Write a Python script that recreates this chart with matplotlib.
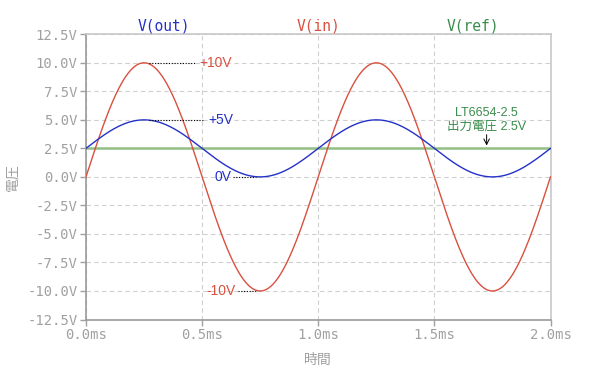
import numpy as np
import matplotlib
matplotlib.use("Agg")
import matplotlib.pyplot as plt

# waveform parameters
freq_hz = 1000.0          # 1 period per 1.0 ms
vin_amp = 10.0            # V(in): +/-10V
vout_offset = 2.5         # V(out): 0..5V
vout_amp = 2.5
vref_level = 2.5          # V(ref)
t_end_ms = 2.0

xticks = [0.0, 0.5, 1.0, 1.5, 2.0]
xtick_labels = ["0.0ms", "0.5ms", "1.0ms", "1.5ms", "2.0ms"]
yticks = [-12.5, -10.0, -7.5, -5.0, -2.5, 0.0, 2.5, 5.0, 7.5, 10.0, 12.5]
ytick_labels = ["-12.5V", "-10.0V", "-7.5V", "-5.0V", "-2.5V", "0.0V",
                "2.5V", "5.0V", "7.5V", "10.0V", "12.5V"]
trace_names = ["V(out)", "V(in)", "V(ref)"]

RED = "#d9503f"
BLUE = "#2431c8"
GREEN_LINE = "#93bf84"
GREEN_TXT = "#3a8c4c"
GRAY = "#a0a0a0"

t = np.linspace(0, t_end_ms, 801)
ph = 2 * np.pi * freq_hz * t / 1000.0
v_in = vin_amp * np.sin(ph)
v_out = vout_offset + vout_amp * np.sin(ph)
v_ref = np.full_like(t, vref_level)

mono = "DejaVu Sans Mono"
sans = ["Liberation Sans", "Noto Sans CJK JP", "DejaVu Sans"]

fig = plt.figure(figsize=(6.0, 3.81), dpi=100)
ax = fig.add_axes([0.1433, 0.1614, 0.7742, 0.7486])

ax.plot(t, v_ref, color=GREEN_LINE, lw=1.8, zorder=2)
ax.plot(t, v_in, color=RED, lw=1.0, zorder=3)
ax.plot(t, v_out, color=BLUE, lw=1.0, zorder=3)

ax.set_xlim(0, t_end_ms)
ax.set_ylim(-12.5, 12.5)
ax.set_xticks(xticks)
ax.set_xticklabels(xtick_labels, family=mono, fontsize=10, color=GRAY)
ax.set_yticks(yticks)
ax.set_yticklabels(ytick_labels, family=mono, fontsize=10, color=GRAY)
ax.tick_params(length=4, width=1, color=GRAY, pad=2)
ax.grid(True, color="#cfcfcf", ls=(0, (4, 3)), lw=0.8)
for side in ["left", "bottom"]:
    ax.spines[side].set_color("#9a9a9a")
    ax.spines[side].set_linewidth(1.2)
for side in ["top", "right"]:
    ax.spines[side].set_color("#c8c8c8")
    ax.spines[side].set_linewidth(1.2)

ax.set_ylabel("電圧", family=["Noto Sans CJK JP"], fontsize=10, color=GRAY, labelpad=6)
ax.set_xlabel("時間", family=["Noto Sans CJK JP"], fontsize=10, color=GRAY, labelpad=8)

# trace names above the plot, centred in thirds of the width
for i, (name, c) in enumerate(zip(trace_names, [BLUE, RED, GREEN_TXT])):
    ax.text((2 * i + 1) / 6, 1.03, name, transform=ax.transAxes,
            ha="center", va="center", family=mono, fontsize=10.5, color=c)

# peak annotations with dotted leaders
t_pk, t_tr = 0.25, 0.75
dot = dict(color="black", ls=(0, (1, 1.5)), lw=0.8, zorder=4)
ax.plot([t_pk + 0.02, 0.47], [vin_amp, vin_amp], **dot)
ax.text(0.49, vin_amp, "+10V", color=RED, family=sans, fontsize=10, va="center")
ax.plot([t_pk + 0.02, 0.505], [vout_offset + vout_amp] * 2, **dot)
ax.text(0.525, vout_offset + vout_amp, "+5V", color=BLUE, family=sans, fontsize=10, va="center")
ax.plot([0.635, t_tr - 0.02], [vout_offset - vout_amp] * 2, **dot)
ax.text(0.625, vout_offset - vout_amp, "0V", color=BLUE, family=sans, fontsize=10, va="center", ha="right")
ax.plot([0.655, t_tr - 0.02], [-vin_amp, -vin_amp], **dot)
ax.text(0.645, -vin_amp, "-10V", color=RED, family=sans, fontsize=10, va="center", ha="right")

ax.text(1.725, 5.0, "LT6654-2.5\n出力電圧 2.5V", color=GREEN_TXT, family=sans,
        fontsize=9, ha="center", va="center", linespacing=1.25)
ax.annotate("", xy=(1.725, 2.75), xytext=(1.725, 3.7),
            arrowprops=dict(arrowstyle="->", color="black", lw=0.7, shrinkA=0, shrinkB=0))

fig.savefig("out.png", dpi=100)
